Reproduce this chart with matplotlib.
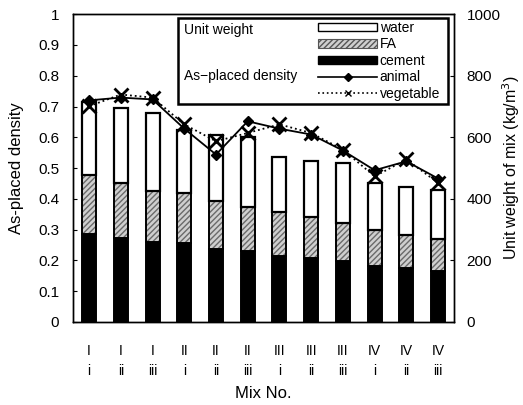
import matplotlib
matplotlib.use("Agg")
import matplotlib.pyplot as plt
from matplotlib.patches import Patch, Rectangle
from matplotlib.lines import Line2D
import numpy as np

plt.rcParams["font.family"] = ["Liberation Sans", "DejaVu Sans"]

# mix identifiers (series / level)
mix_series = ["I", "I", "I", "II", "II", "II", "III", "III", "III", "IV", "IV", "IV"]
mix_level  = ["i", "ii", "iii", "i", "ii", "iii", "i", "ii", "iii", "i", "ii", "iii"]

# unit weight of each constituent, kg/m3
cement = [287, 273, 260, 256, 238, 231, 215, 207, 199, 182, 175, 167]
fa     = [189, 177, 164, 163, 154, 142, 141, 133, 122, 118, 108, 102]
water  = [238, 246, 256, 206, 217, 227, 180, 184, 194, 150, 156, 161]

# as-placed density
animal    = [0.720, 0.729, 0.723, 0.628, 0.544, 0.652, 0.628, 0.609, 0.557, 0.493, 0.522, 0.466]
vegetable = [0.701, 0.739, 0.729, 0.642, 0.587, 0.614, 0.642, 0.614, 0.560, 0.473, 0.528, 0.452]

x = np.arange(len(cement))
cement = np.array(cement)
fa = np.array(fa)
water = np.array(water)
w = 0.44

fig = plt.figure(figsize=(5.23, 4.05), dpi=100)
ax = fig.add_axes([0.140, 0.205, 0.728, 0.76])
ax2 = ax.twinx()

# stacked bars on the unit-weight axis
ax2.bar(x, cement, w, color="black", edgecolor="black", linewidth=1.4)
ax2.bar(x, fa, w, bottom=cement, color="#cfcfcf", edgecolor="#6a6a6a",
        hatch="//////", linewidth=0)
ax2.bar(x, fa, w, bottom=cement, fill=False, edgecolor="black", linewidth=1.4)
ax2.bar(x, water, w, bottom=cement + fa, color="white", edgecolor="black", linewidth=1.6)
ax2.set_ylim(0, 1000)
ax2.set_yticks(range(0, 1001, 200))
ax2.tick_params(axis="y", direction="in", length=3, labelsize=11, pad=9)
ax2.set_ylabel("Unit weight of mix (kg/m$^3$)", fontsize=11.5)
ax2.yaxis.set_label_coords(1.122, 0.5)

# density lines above the bars
ax.set_zorder(ax2.get_zorder() + 1)
ax.patch.set_visible(False)
ax.plot(x, animal, "-", color="black", lw=1.3, marker="D", ms=5)
ax.plot(x, vegetable, ":", color="black", lw=1.3, marker="x", ms=10, mew=2)
ax.set_xlim(-0.5, len(x) - 0.5)
ax.set_ylim(0, 1)
ax.set_yticks(np.arange(0, 1.01, 0.1))
ax.set_yticklabels(["0"] + [f"{v:.1f}" for v in np.arange(0.1, 0.95, 0.1)] + ["1"])
ax.tick_params(axis="y", direction="in", length=3, labelsize=11, pad=10)
ax.set_ylabel("As-placed density", fontsize=12, labelpad=10)

ax.set_xticks(x)
ax.set_xticklabels([f"{s}\n{l}" for s, l in zip(mix_series, mix_level)],
                   fontsize=10, linespacing=1.5)
ax.tick_params(axis="x", length=0, pad=16)
ax.set_xlabel("Mix No.", fontsize=12, labelpad=6)

for a in (ax, ax2):
    for sp in a.spines.values():
        sp.set_linewidth(1.0)

# legend box
ax.add_patch(Rectangle((0.276, 0.708), 0.708, 0.279, transform=ax.transAxes,
                       fill=True, facecolor="white", edgecolor="black", lw=1.8, zorder=5))
ax.text(0.29, 0.95, "Unit weight", transform=ax.transAxes, fontsize=10,
        va="center", zorder=6)
ax.text(0.29, 0.80, "As\u2212placed density", transform=ax.transAxes, fontsize=10,
        va="center", zorder=6)
handles = [
    Patch(facecolor="white", edgecolor="black", lw=1.0),
    Patch(facecolor="#cfcfcf", edgecolor="#555555", hatch="//////", lw=0.8),
    Patch(facecolor="black", edgecolor="black"),
    Line2D([], [], color="black", lw=1.2, marker="D", ms=4),
    Line2D([], [], color="black", lw=1.2, ls=":", marker="x", ms=5),
]
leg = ax.legend(handles, ["water", "FA", "cement", "animal", "vegetable"],
                loc="upper right", bbox_to_anchor=(0.985, 1.005), frameon=False,
                fontsize=10, handlelength=4.2, handleheight=0.6, labelspacing=0.18,
                handletextpad=0.2, borderaxespad=0.2)
leg.set_zorder(7)

fig.savefig("out.png", dpi=100)
